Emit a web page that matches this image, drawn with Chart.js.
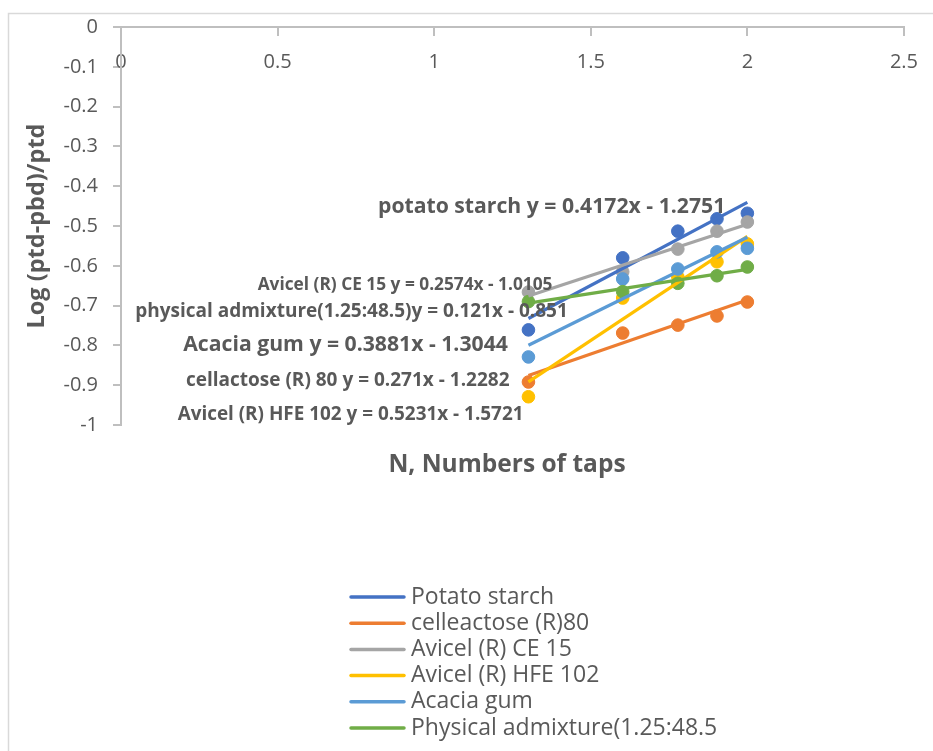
<!DOCTYPE html>
<html lang="en">
<head>
    <meta charset="UTF-8">
    <title>Log (ptd-pbd)/ptd vs N</title>
    <script src="https://cdn.jsdelivr.net/npm/chart.js"></script>
    <style>
        html, body { margin: 0; padding: 0; background: #fff; }
        canvas { display: block; }
    </style>
</head>
<body>
    <canvas id="tapChart" width="933" height="751"></canvas>

    <script>
        // log of number of taps (20, 40, 60, 80, 100)
        const logTaps = [1.301, 1.602, 1.778, 1.903, 2];

        const seriesNames = [
            "Potato starch",
            "celleactose (R)80",
            "Avicel (R) CE 15",
            "Avicel (R) HFE 102",
            "Acacia gum",
            "Physical admixture(1.25:48.5"
        ];

        const potatoStarch = [-0.761, -0.580, -0.513, -0.482, -0.468];
        const cellactose   = [-0.892, -0.769, -0.749, -0.726, -0.691];
        const avicelCE15   = [-0.666, -0.615, -0.558, -0.513, -0.490];
        const avicelHFE102 = [-0.929, -0.681, -0.628, -0.590, -0.545];
        const acaciaGum    = [-0.829, -0.633, -0.608, -0.565, -0.556];
        const physicalMix  = [-0.690, -0.665, -0.644, -0.625, -0.603];

        // linear trendlines as printed on the chart
        const slopes     = [0.4172, 0.271, 0.2574, 0.5231, 0.3881, 0.121];
        const intercepts = [-1.2751, -1.2282, -1.0105, -1.5721, -1.3044, -0.851];

        const equationLabels = [
            "potato starch y = 0.4172x - 1.2751",
            "cellactose (R) 80 y = 0.271x - 1.2282",
            "Avicel (R) CE 15 y = 0.2574x - 1.0105",
            "Avicel (R) HFE 102 y = 0.5231x - 1.5721",
            "Acacia gum y = 0.3881x - 1.3044",
            "physical admixture(1.25:48.5)y = 0.121x - 0.851"
        ];

        const xTickValues = [0, 0.5, 1, 1.5, 2, 2.5];
        const yTickValues = [0, -0.1, -0.2, -0.3, -0.4, -0.5, -0.6, -0.7, -0.8, -0.9, -1];

        const xTitle = "N, Numbers of taps";
        const yTitle = "Log (ptd-pbd)/ptd";

        const colors = ["#4472C4", "#ED7D31", "#A5A5A5", "#FFC000", "#5B9BD5", "#70AD47"];
        const seriesValues = [potatoStarch, cellactose, avicelCE15, avicelHFE102, acaciaGum, physicalMix];

        const textGray = "#595959";
        const axisGray = "#BFBFBF";
        const fontFamily = "'Open Sans', sans-serif";

        // where each equation label sits (data units) and its font size
        const labelStyle = [
            { x: 1.375, y: -0.452, size: 21.2 },
            { x: 0.724, y: -0.889, size: 19 },
            { x: 0.907, y: -0.648, size: 17.3 },
            { x: 0.733, y: -0.975, size: 18.9 },
            { x: 0.717, y: -0.799, size: 21.2 },
            { x: 0.736, y: -0.716, size: 19 }
        ];

        const pointSets = seriesValues.map((vals, i) => ({
            label: seriesNames[i],
            data: logTaps.map((x, k) => ({ x: x, y: vals[k] })),
            backgroundColor: colors[i],
            borderColor: colors[i],
            borderWidth: 1,
            pointRadius: 6.3,
            showLine: false,
            order: 100 - i
        }));

        const trendSets = seriesValues.map((vals, i) => {
            const x0 = logTaps[0], x1 = logTaps[logTaps.length - 1];
            return {
                label: seriesNames[i] + " trend",
                data: [
                    { x: x0, y: slopes[i] * x0 + intercepts[i] },
                    { x: x1, y: slopes[i] * x1 + intercepts[i] }
                ],
                borderColor: colors[i],
                borderWidth: 3.2,
                pointRadius: 0,
                showLine: true,
                order: 50 - i
            };
        });

        const chartDecor = {
            id: "chartDecor",
            beforeDraw(chart) {
                const ctx = chart.ctx;
                ctx.save();
                ctx.fillStyle = "#fff";
                ctx.fillRect(0, 0, chart.width, chart.height);
                ctx.strokeStyle = "#D9D9D9";
                ctx.lineWidth = 1.5;
                ctx.strokeRect(8.5, 13.5, chart.width + 10, chart.height + 10);
                ctx.restore();
            },
            afterDraw(chart) {
                const ctx = chart.ctx;
                const xs = chart.scales.x, ys = chart.scales.y;
                ctx.save();
                ctx.fillStyle = textGray;
                ctx.textAlign = "center";
                ctx.textBaseline = "middle";

                // equation labels
                equationLabels.forEach((txt, i) => {
                    const st = labelStyle[i];
                    ctx.font = "bold " + st.size + "px " + fontFamily;
                    ctx.fillText(txt, xs.getPixelForValue(st.x), ys.getPixelForValue(st.y));
                });

                // x axis title
                ctx.font = "bold 24.5px " + fontFamily;
                ctx.fillText(xTitle, 507, 465);

                // legend, one entry per row
                ctx.textAlign = "left";
                ctx.font = "23px " + fontFamily;
                ctx.lineCap = "round";
                seriesNames.forEach((name, i) => {
                    const y = 597 + i * 26.2;
                    ctx.strokeStyle = colors[i];
                    ctx.lineWidth = 3.5;
                    ctx.beginPath();
                    ctx.moveTo(351, y);
                    ctx.lineTo(404, y);
                    ctx.stroke();
                    ctx.fillText(name, 411, y);
                });
                ctx.restore();
            }
        };

        new Chart(document.getElementById("tapChart"), {
            type: "scatter",
            data: { datasets: [...pointSets, ...trendSets] },
            options: {
                responsive: false,
                animation: false,
                layout: { padding: { left: 8, top: 27, right: 21, bottom: 326 } },
                plugins: {
                    legend: { display: false },
                    tooltip: { enabled: false }
                },
                scales: {
                    x: {
                        type: "linear",
                        position: { y: 0 },
                        min: 0,
                        max: 2.5,
                        afterBuildTicks: (scale) => { scale.ticks = xTickValues.map(v => ({ value: v })); },
                        ticks: {
                            color: textGray,
                            font: { family: fontFamily, size: 20 },
                            padding: 15,
                            maxRotation: 0,
                            callback: (v) => String(v)
                        },
                        grid: { drawOnChartArea: false, drawTicks: true, tickLength: 8, color: axisGray, lineWidth: 2 },
                        border: { display: true, color: axisGray, width: 2 }
                    },
                    y: {
                        type: "linear",
                        position: "left",
                        min: -1,
                        max: 0,
                        afterBuildTicks: (scale) => { scale.ticks = yTickValues.map(v => ({ value: v })); },
                        afterFit: (scale) => { scale.width = 113; },
                        ticks: {
                            color: textGray,
                            font: { family: fontFamily, size: 20 },
                            padding: 15,
                            callback: (v) => String(Number(v.toFixed(1)))
                        },
                        grid: { drawOnChartArea: false, drawTicks: true, tickLength: 8, color: axisGray, lineWidth: 2 },
                        border: { display: true, color: axisGray, width: 2 },
                        title: {
                            display: true,
                            text: yTitle,
                            color: textGray,
                            font: { family: fontFamily, size: 23.5, weight: "bold" },
                            padding: { top: 15, bottom: 0 }
                        }
                    }
                }
            },
            plugins: [chartDecor]
        });
    </script>
</body>
</html>
